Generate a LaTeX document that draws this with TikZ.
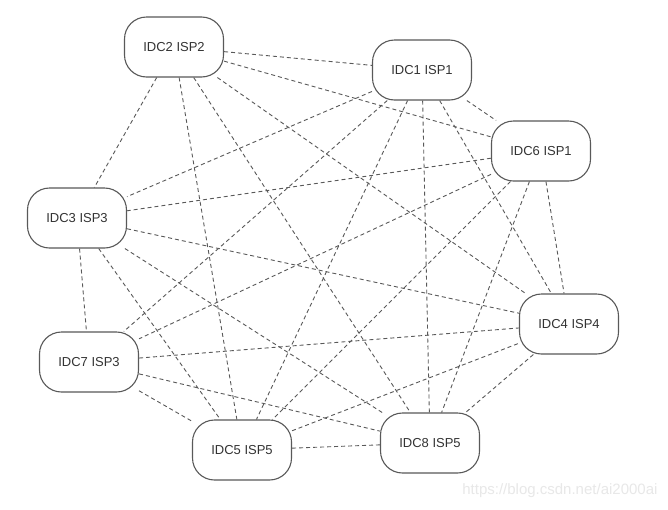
\documentclass[tikz,border=0pt]{standalone}
\usepackage{fontspec}
\setmainfont{Liberation Sans}
\begin{document}
\begin{tikzpicture}[x=1pt,y=-1pt,
  idc/.style={draw=black!65, line width=1.1pt, fill=white, rounded corners=22pt,
    minimum width=99pt, minimum height=60pt, inner sep=0pt, text=black!80,
    font=\fontsize{13}{15}\selectfont},
  link/.style={draw=black!65, line width=0.9pt, dash pattern=on 4pt off 3pt}]
\useasboundingbox[fill=white] (0,0) rectangle (668,509);
\node[idc] (n2) at (174,47) {IDC2 ISP2};
\node[idc] (n1) at (422,70) {IDC1 ISP1};
\node[idc] (n6) at (541,151) {IDC6 ISP1};
\node[idc] (n3) at (77,218) {IDC3 ISP3};
\node[idc] (n4) at (569,324) {IDC4 ISP4};
\node[idc] (n7) at (89,362) {IDC7 ISP3};
\node[idc] (n5) at (242,450) {IDC5 ISP5};
\node[idc] (n8) at (430,443) {IDC8 ISP5};
\foreach \a/\b in {n2/n1,n2/n6,n2/n3,n2/n5,n2/n8,n2/n4,
  n1/n6,n1/n3,n1/n7,n1/n5,n1/n8,n1/n4,
  n6/n3,n6/n7,n6/n5,n6/n8,n6/n4,
  n3/n7,n3/n5,n3/n8,n3/n4,
  n7/n4,n7/n8,n7/n5,
  n5/n8,n5/n4,n4/n8}
  \draw[link] (\a) -- (\b);
\node[text=black!9, font=\fontsize{15}{17}\selectfont, anchor=east] (wm) at (661,491) {https://blog.csdn.net/ai2000ai};
\end{tikzpicture}
\end{document}
